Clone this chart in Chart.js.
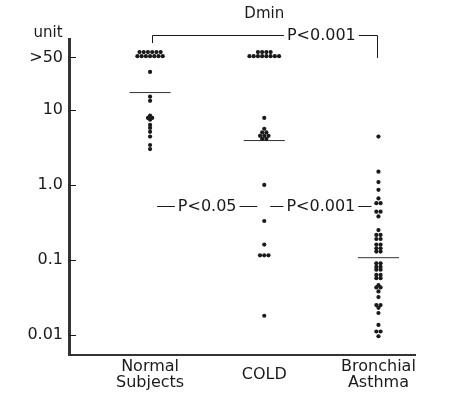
<!DOCTYPE html>
<html>
<head>
<meta charset="utf-8">
<script src="https://cdn.jsdelivr.net/npm/chart.js@4/dist/chart.umd.min.js"></script>
<style>
  html, body { margin: 0; padding: 0; background: #fff; }
  canvas { display: block; }
</style>
</head>
<body>
<canvas id="dminChart" width="465" height="396"></canvas>
<script>
// Data (Dmin, unit, log scale)
const categories = [['Normal', 'Subjects'], ['COLD'], ['Bronchial', 'Asthma']];
const normalValues = [59, 59, 59, 59, 59, 59, 52, 52, 52, 52, 52, 52, 52, 32,
    15, 13.2, 8.4, 7.8, 7.8, 7.4, 6.3, 5.75, 5.1, 4.4, 3.4, 3.0];
const coldValues = [59, 59, 59, 59, 52, 52, 52, 52, 52, 52, 52, 52, 7.8,
    5.6, 5.0, 5.0, 4.5, 4.5, 4.5, 4.1, 4.1, 1.0, 0.33, 0.16, 0.115, 0.115, 0.115, 0.018];
const asthmaValues = [4.4, 1.5, 1.09, 0.86, 0.66, 0.57, 0.57, 0.44, 0.44, 0.38, 0.25,
    0.215, 0.215, 0.19, 0.19, 0.16, 0.16, 0.143, 0.143, 0.129, 0.129,
    0.09, 0.09, 0.081, 0.081, 0.074, 0.074, 0.063, 0.063, 0.057, 0.057,
    0.046, 0.043, 0.043, 0.038, 0.032, 0.025, 0.025, 0.023, 0.0196,
    0.0136, 0.0111, 0.0111, 0.0096];
const meanValues = [17, 3.9, 0.107];
const yTickValues = [0.01, 0.1, 1, 10, 50];
const yTickLabels = ['0.01', '0.1', '1.0', '10', '>50'];
const pLabels = ['P<0.05', 'P<0.001', 'P<0.001']; // 1 vs 2, 2 vs 3, 1 vs 3
const pLevel = 0.52;

const FONT = '"DejaVu Sans", sans-serif';
const INK = '#1a1a1a';

// spread dots with the same value side by side
function spread(values, cat) {
    const counts = {};
    values.forEach(v => { counts[v] = (counts[v] || 0) + 1; });
    const seen = {};
    return values.map(v => {
        const k = seen[v] = (seen[v] === undefined ? 0 : seen[v] + 1);
        return { x: cat + (k - (counts[v] - 1) / 2) * 0.037, y: v };
    });
}

const groups = [normalValues, coldValues, asthmaValues];
const datasets = groups.map((vals, i) => ({
    data: spread(vals, i + 1),
    pointRadius: 2.1,
    pointBackgroundColor: INK,
    pointBorderWidth: 0,
    showLine: false
}));
meanValues.forEach((m, i) => {
    datasets.push({
        data: [{ x: i + 1 - 0.18, y: m }, { x: i + 1 + 0.18, y: m }],
        showLine: true,
        borderColor: '#333',
        borderWidth: 1,
        pointRadius: 0
    });
});

const annotations = {
    id: 'annotations',
    afterDraw(chart) {
        const { ctx, chartArea, scales: { x, y } } = chart;
        ctx.save();
        ctx.fillStyle = INK;
        ctx.strokeStyle = INK;
        ctx.lineWidth = 1;

        // inner tick marks on the y axis
        yTickValues.forEach(v => {
            const py = Math.round(y.getPixelForValue(v)) + 0.5;
            ctx.beginPath();
            ctx.moveTo(chartArea.left, py);
            ctx.lineTo(chartArea.left + 7, py);
            ctx.stroke();
        });

        // category labels
        ctx.font = '16px ' + FONT;
        ctx.textAlign = 'center';
        ctx.textBaseline = 'middle';
        categories.forEach((lines, i) => {
            const px = x.getPixelForValue(i + 1);
            const y0 = 375 - (lines.length - 1) * 8;
            lines.forEach((t, j) => ctx.fillText(t, px, y0 + j * 16));
        });

        // titles
        ctx.font = '15px ' + FONT;
        ctx.fillText('Dmin', x.getPixelForValue(2), 14);
        ctx.fillText('unit', 48, 33);

        // p-value connectors
        ctx.font = '16px ' + FONT;
        function pLine(x1, x2, py, label) {
            const cx = (x1 + x2) / 2;
            const w = ctx.measureText(label).width / 2 + 3;
            ctx.beginPath();
            ctx.moveTo(x1, py); ctx.lineTo(cx - w, py);
            ctx.moveTo(cx + w, py); ctx.lineTo(x2, py);
            ctx.stroke();
            ctx.fillText(label, cx, py);
        }
        const py = Math.round(y.getPixelForValue(pLevel)) + 0.5;
        const c1 = x.getPixelForValue(1), c2 = x.getPixelForValue(2), c3 = x.getPixelForValue(3);
        pLine(c1 + 7, c2 - 7, py, pLabels[0]);
        pLine(c2 + 6, c3 - 7, py, pLabels[1]);

        // top bracket
        const ty = 35.5;
        const lx = Math.round(c1) + 2.5, rx = Math.round(c3) - 0.5;
        const mid = (c2 + c3) / 2;
        const w = ctx.measureText(pLabels[2]).width / 2 + 3;
        ctx.beginPath();
        ctx.moveTo(lx, 43); ctx.lineTo(lx, ty); ctx.lineTo(mid - w, ty);
        ctx.moveTo(mid + w, ty); ctx.lineTo(rx, ty); ctx.lineTo(rx, 58);
        ctx.stroke();
        ctx.fillText(pLabels[2], mid, ty);
        ctx.restore();
    }
};

new Chart(document.getElementById('dminChart'), {
    type: 'scatter',
    data: { datasets },
    options: {
        responsive: false,
        animation: false,
        layout: { padding: { top: 39, right: 50, bottom: 0, left: 0 } },
        plugins: { legend: { display: false }, tooltip: { enabled: false } },
        scales: {
            x: {
                type: 'linear',
                min: 0.29,
                max: 3.32,
                grid: { display: false, drawTicks: false },
                ticks: { display: false },
                border: { display: true, color: '#333', width: 2 },
                afterFit: s => { s.height = 41; }
            },
            y: {
                type: 'logarithmic',
                min: 0.0054,
                max: 88,
                grid: { display: false, drawTicks: false },
                border: { display: true, color: '#333', width: 3 },
                afterBuildTicks: s => { s.ticks = yTickValues.map(v => ({ value: v })); },
                ticks: {
                    autoSkip: false,
                    padding: 6,
                    color: INK,
                    font: { family: FONT, size: 16 },
                    callback: (v, i) => yTickLabels[i]
                },
                afterFit: s => { s.width = 69; }
            }
        }
    },
    plugins: [annotations]
});
</script>
</body>
</html>
